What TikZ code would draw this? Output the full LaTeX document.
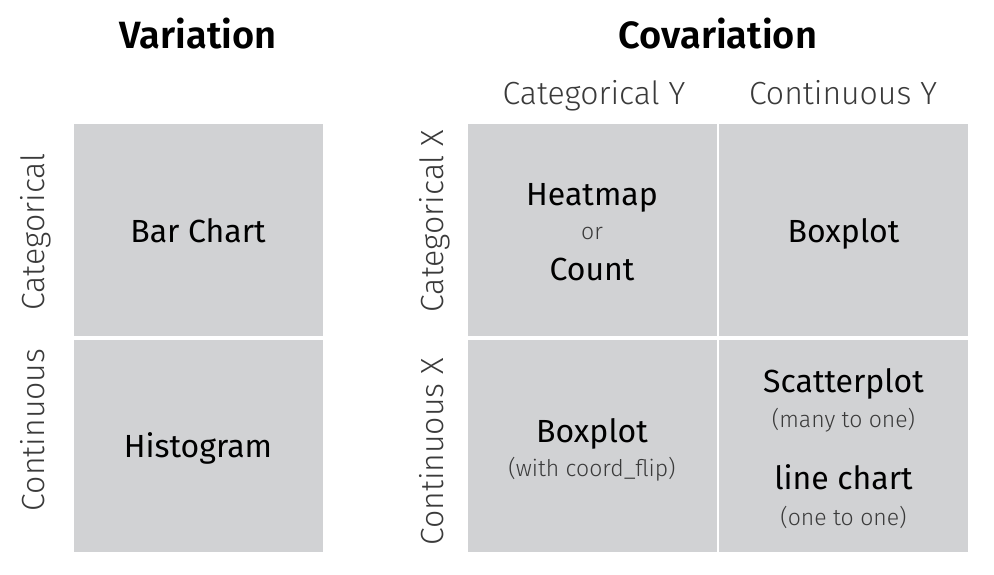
\documentclass[tikz,border=0pt]{standalone}
\usepackage{fontspec}
\setmainfont{Fira Sans}
\newfontfamily\lightfont{Fira Sans Light}
\newfontfamily\semifont{Fira Sans SemiBold}
\begin{document}
\begin{tikzpicture}[x=1pt, y=-1pt,
		cell/.style={fill=cellgray, draw=none, minimum width=249pt, minimum height=212pt, inner sep=0pt},
		heading/.style={anchor=base, inner sep=0pt, font=\semifont\fontsize{38}{44}\selectfont},
		axislabel/.style={anchor=base, inner sep=0pt, font=\lightfont\fontsize{32}{36}\selectfont, text=textgray},
		big/.style={anchor=base, inner sep=0pt, font=\fontsize{32}{36}\selectfont},
		small/.style={anchor=base, inner sep=0pt, font=\lightfont\fontsize{23}{26}\selectfont, text=textgray}]
		\definecolor{cellgray}{HTML}{D1D2D4}
		\definecolor{textgray}{HTML}{3A3A3A}
		\useasboundingbox (0,0) rectangle (994,575);
		% variation
		\node[heading] (variation) at (198,49) {Variation};
		\node[cell] (barchart) at (198,230) {};
		\node[cell] (histogram) at (198,445.5) {};
		\node[axislabel, rotate=90] (catlabel) at (45,232) {Categorical};
		\node[axislabel, rotate=90] (conlabel) at (45,430) {Continuous};
		\node[big] at (198,242) {Bar Chart};
		\node[big] at (198,457) {Histogram};
		% covariation
		\node[heading] (covariation) at (718,49) {Covariation};
		\node[axislabel] (caty) at (594,105) {Categorical Y};
		\node[axislabel] (cony) at (843,105) {Continuous Y};
		\node[axislabel, rotate=90] (catx) at (443,221) {Categorical X};
		\node[axislabel, rotate=90] (conx) at (443,452) {Continuous X};
		\node[cell] (heatmap) at (592,230) {};
		\node[cell] (boxplot) at (843.5,230) {};
		\node[cell] (flipbox) at (592,445.5) {};
		\node[cell] (scatter) at (843.5,445.5) {};
		% cell texts
		\node[big] at (592,205) {Heatmap};
		\node[small] at (592,240) {or};
		\node[big] at (592,280) {Count};
		\node[big] at (843.5,242) {Boxplot};
		\node[big] at (592,442) {Boxplot};
		\node[small] at (592,476) {(with coord\_flip)};
		\node[big] at (843.5,392) {Scatterplot};
		\node[small] at (843.5,427) {(many to one)};
		\node[big] at (843.5,489) {line chart};
		\node[small] at (843.5,525) {(one to one)};
	\end{tikzpicture}
\end{document}
